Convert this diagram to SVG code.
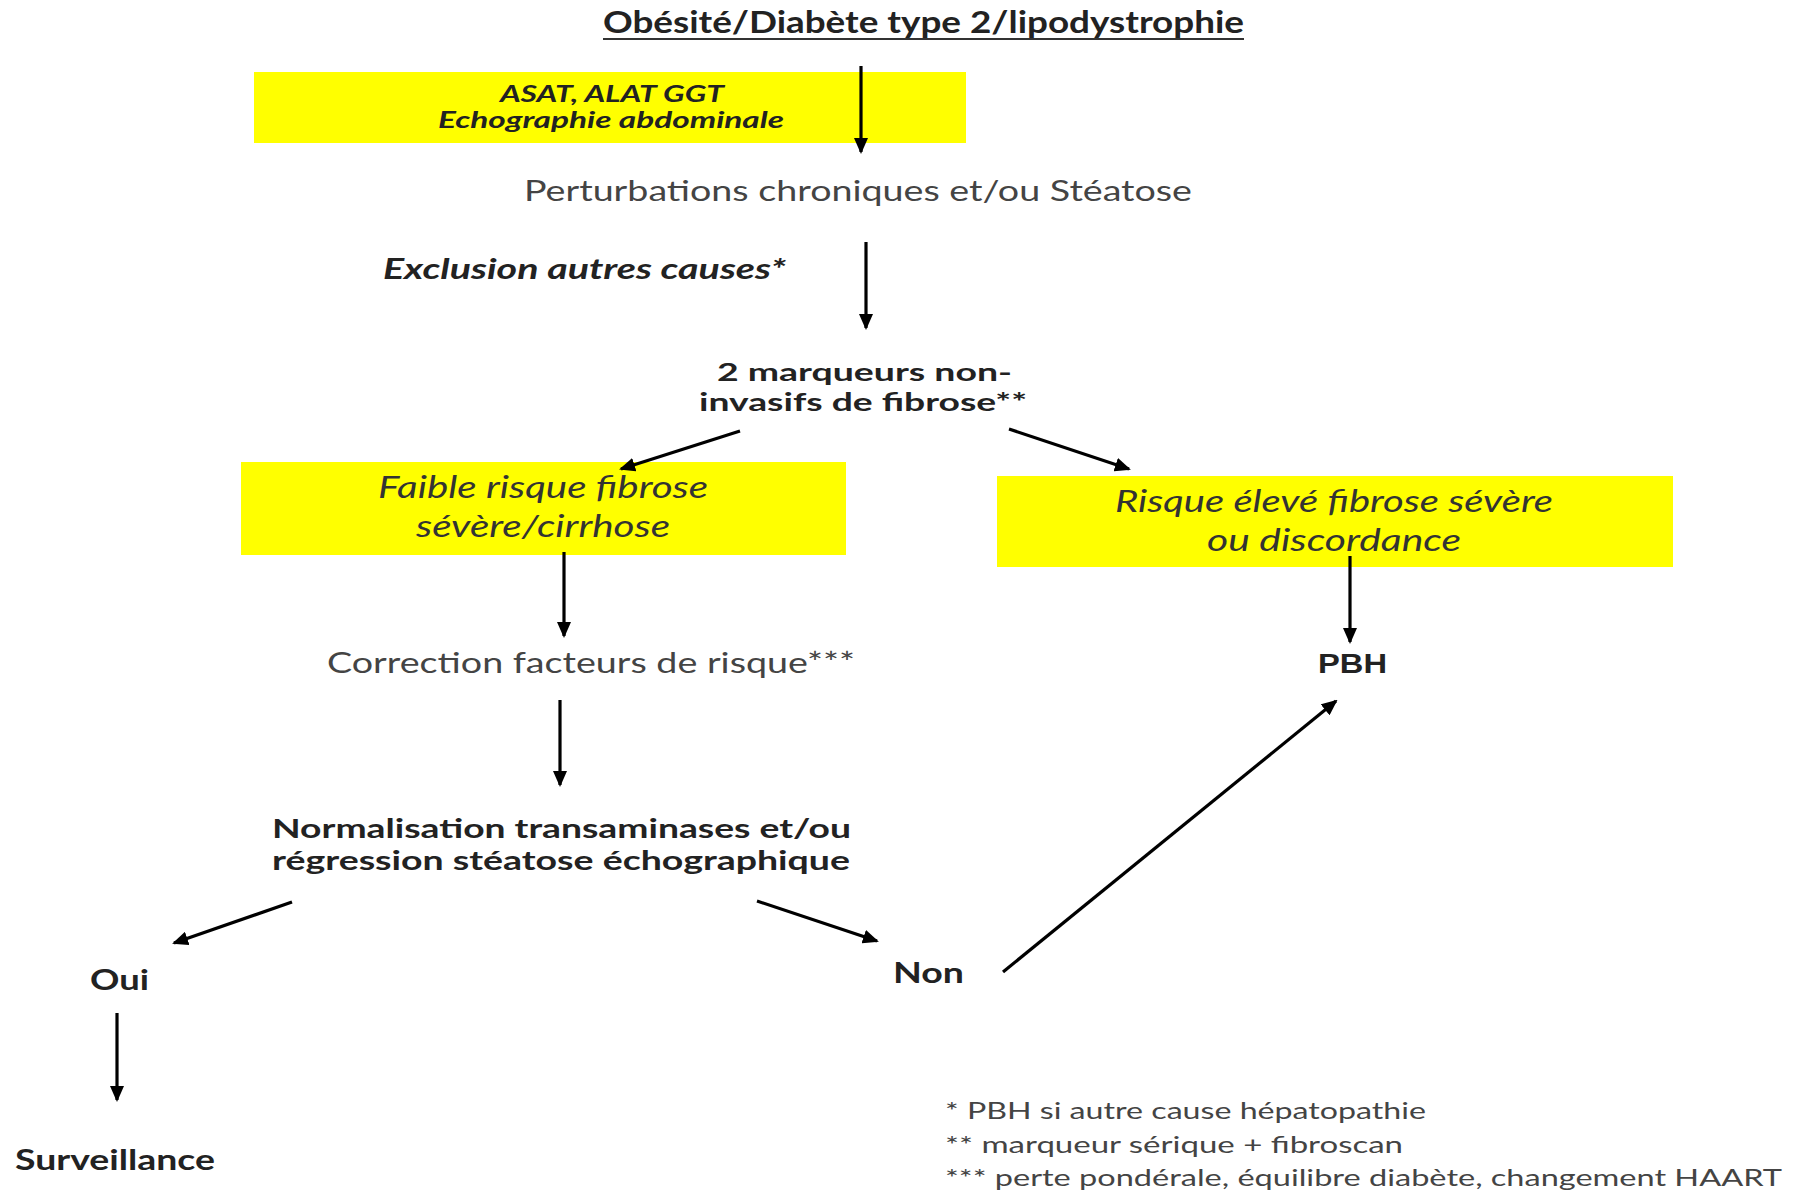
<svg xmlns="http://www.w3.org/2000/svg" width="1793" height="1193" viewBox="0 0 1793 1193">
<style>
text{font-family:Lato,"Open Sans","Liberation Sans",sans-serif;fill:#333}
.b{font-weight:bold;fill:#222}
.i{font-style:italic}
.r{fill:#444}
.box{fill:#ffff00}
.c{stroke:#000;stroke-width:3.2;fill:none;marker-end:url(#ah)}
</style>
<defs>
<marker id="ah" markerUnits="userSpaceOnUse" markerWidth="16" markerHeight="14" refX="14" refY="7" orient="auto">
<path d="M0,0 L16,7 L0,14 Z" fill="#000"/>
</marker>
</defs>
<rect width="1793" height="1193" fill="#fff"/>
<g id="title">
<text x="603" y="33" font-size="30" class="b" textLength="641" lengthAdjust="spacingAndGlyphs">Obésité/Diabète type 2/lipodystrophie</text>
<line x1="603" y1="39" x2="1244" y2="39" stroke="#333" stroke-width="2"/>
</g>
<g id="bilan">
<rect class="box" x="254" y="72" width="712" height="71"/>
<text x="500" y="102" font-size="22" class="b i" textLength="224" lengthAdjust="spacingAndGlyphs">ASAT, ALAT GGT</text>
<text x="438" y="128" font-size="22" class="b i" textLength="346" lengthAdjust="spacingAndGlyphs">Echographie abdominale</text>
</g>
<g id="perturbations">
<text x="524" y="201" font-size="28" class="r" textLength="668" lengthAdjust="spacingAndGlyphs">Perturbations chroniques et/ou Stéatose</text>
</g>
<g id="exclusion">
<text x="383" y="279" font-size="28" class="b i" textLength="403" lengthAdjust="spacingAndGlyphs">Exclusion autres causes*</text>
</g>
<g id="marqueurs">
<text x="717" y="381" font-size="25" class="b" textLength="295" lengthAdjust="spacingAndGlyphs">2 marqueurs non-</text>
<text x="699" y="411" font-size="25" class="b" textLength="328" lengthAdjust="spacingAndGlyphs">invasifs de fibrose**</text>
</g>
<g id="faible">
<rect class="box" x="241" y="462" width="605" height="93"/>
<text x="543" y="498" font-size="30" class="i" text-anchor="middle" textLength="330" lengthAdjust="spacingAndGlyphs">Faible risque fibrose</text>
<text x="543" y="537" font-size="30" class="i" text-anchor="middle" textLength="254" lengthAdjust="spacingAndGlyphs">sévère/cirrhose</text>
</g>
<g id="eleve">
<rect class="box" x="997" y="476" width="676" height="91"/>
<text x="1334" y="512" font-size="30" class="i" text-anchor="middle" textLength="438" lengthAdjust="spacingAndGlyphs">Risque élevé fibrose sévère</text>
<text x="1334" y="551" font-size="30" class="i" text-anchor="middle" textLength="254" lengthAdjust="spacingAndGlyphs">ou discordance</text>
</g>
<g id="correction">
<text x="327" y="673" font-size="28" class="r" textLength="528" lengthAdjust="spacingAndGlyphs">Correction facteurs de risque***</text>
</g>
<g id="pbh">
<text x="1318" y="673" font-size="27" class="b" style="font-family:'Liberation Sans',Arial,sans-serif" textLength="69" lengthAdjust="spacingAndGlyphs">PBH</text>
</g>
<g id="normalisation">
<text x="272" y="838" font-size="26" class="b" textLength="579" lengthAdjust="spacingAndGlyphs">Normalisation transaminases et/ou</text>
<text x="272" y="870" font-size="26" class="b" textLength="578" lengthAdjust="spacingAndGlyphs">régression stéatose échographique</text>
</g>
<g id="oui">
<text x="90" y="990" font-size="28" class="b" textLength="59" lengthAdjust="spacingAndGlyphs">Oui</text>
</g>
<g id="non">
<text x="893" y="983" font-size="28" class="b" textLength="71" lengthAdjust="spacingAndGlyphs">Non</text>
</g>
<g id="surveillance">
<text x="15" y="1170" font-size="28" class="b" textLength="200" lengthAdjust="spacingAndGlyphs">Surveillance</text>
</g>
<g id="notes">
<text x="945" y="1119" font-size="24" class="r" textLength="481" lengthAdjust="spacingAndGlyphs">* PBH si autre cause hépatopathie</text>
<text x="945" y="1153" font-size="24" class="r" textLength="458" lengthAdjust="spacingAndGlyphs">** marqueur sérique + fibroscan</text>
<text x="945" y="1186" font-size="24" class="r" textLength="837" lengthAdjust="spacingAndGlyphs">*** perte pondérale, équilibre diabète, changement HAART</text>
</g>
<g id="connectors">
<line class="c" x1="861" y1="66" x2="861" y2="152"/>
<line class="c" x1="866" y1="242" x2="866" y2="328"/>
<line class="c" x1="740" y1="431" x2="621" y2="469"/>
<line class="c" x1="1009" y1="429" x2="1129" y2="469"/>
<line class="c" x1="564" y1="552" x2="564" y2="636"/>
<line class="c" x1="1350" y1="556" x2="1350" y2="642"/>
<line class="c" x1="560" y1="700" x2="560" y2="785"/>
<line class="c" x1="292" y1="902" x2="174" y2="943"/>
<line class="c" x1="757" y1="901" x2="877" y2="941"/>
<line class="c" x1="1003" y1="972" x2="1336" y2="701"/>
<line class="c" x1="117" y1="1013" x2="117" y2="1100"/>
</g>
</svg>
